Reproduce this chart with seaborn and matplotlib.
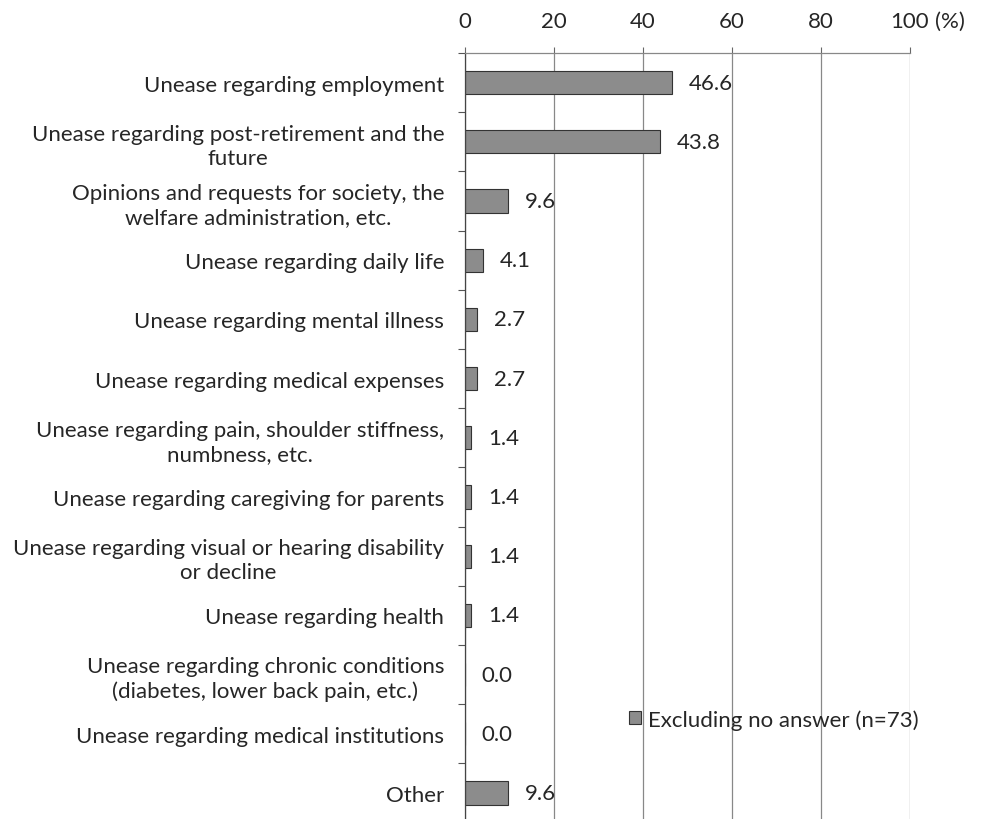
import matplotlib
matplotlib.use("Agg")
import matplotlib.pyplot as plt
import matplotlib.transforms as mtransforms
import seaborn as sns
import pandas as pd
import numpy as np

categories = [
    "Unease regarding employment",
    "Unease regarding post-retirement and the\nfuture",
    "Opinions and requests for society, the\nwelfare administration, etc.",
    "Unease regarding daily life",
    "Unease regarding mental illness",
    "Unease regarding medical expenses",
    "Unease regarding pain, shoulder stiffness,\nnumbness, etc.",
    "Unease regarding caregiving for parents",
    "Unease regarding visual or hearing disability\nor decline",
    "Unease regarding health",
    "Unease regarding chronic conditions\n(diabetes, lower back pain, etc.)",
    "Unease regarding medical institutions",
    "Other",
]
values = [46.6, 43.8, 9.6, 4.1, 2.7, 2.7, 1.4, 1.4, 1.4, 1.4, 0.0, 0.0, 9.6]
series_name = "Excluding no answer (n=73)"
x_ticks = [0, 20, 40, 60, 80, 100]

df = pd.DataFrame({"category": categories, "value": values, "series": series_name})

sns.set_theme(style="white")
plt.rcParams["font.family"] = ["Lato", "DejaVu Sans"]

FS = 16

fig = plt.figure(figsize=(9.85, 8.2), dpi=100)
ax = fig.add_axes([465 / 985, 1 - 823.6 / 820, (910 - 465) / 985, (823.6 - 54) / 820])

sns.barplot(data=df, y="category", x="value", hue="series", orient="h",
            palette=["#8c8c8c"], edgecolor="#333333", linewidth=0.8,
            width=0.39, ax=ax, legend=True)

ax.set_xlim(0, 100)
ax.set_ylim(len(categories) - 0.5, -0.5)
ax.set_xlabel("")
ax.set_ylabel("")

ax.xaxis.tick_top()
ax.set_xticks(x_ticks)
ax.set_xticklabels([str(t) for t in x_ticks], fontsize=FS)
ax.tick_params(axis="x", direction="out", length=4, width=0.8, color="#666666", pad=12, top=True, bottom=False)
ax.grid(axis="x", color="#888888", linewidth=0.9)
ax.grid(axis="y", visible=False)

ax.tick_params(axis="y", which="major", length=0, pad=15, labelsize=FS)
for lbl in ax.get_yticklabels():
    lbl.set_multialignment("center")
    lbl.set_linespacing(1.25)
ax.set_yticks(np.arange(-0.5, len(categories), 1.0), minor=True)
ax.tick_params(axis="y", which="minor", direction="out", length=5, width=0.8, color="#555555", left=True)

for side in ["right", "bottom"]:
    ax.spines[side].set_visible(False)
ax.spines["left"].set_color("#444444")
ax.spines["left"].set_linewidth(0.9)
ax.spines["top"].set_color("#888888")
ax.spines["top"].set_linewidth(0.9)

# (%) unit next to 100
fig.canvas.draw()
lab100 = ax.get_xticklabels()[-1]
ext = lab100.get_window_extent()
fig.text((ext.x1 + 6) / fig.bbox.width, ext.y0 / fig.bbox.height, "(%)", fontsize=FS,
         ha="left", va="bottom")

for i, v in enumerate(values):
    ax.annotate(f"{v:.1f}", xy=(v, i), xytext=(12, 0), textcoords="offset points",
                ha="left", va="center", fontsize=FS)

leg = ax.legend(loc="upper left", bbox_to_anchor=((629 - 465) / (910 - 465), 1 - (710 - 54) / (823.6 - 54)),
                frameon=False, fontsize=FS, handlelength=0.55, handleheight=0.55,
                handletextpad=0.3, borderpad=0, borderaxespad=0)

fig.savefig("out.png", dpi=100)
